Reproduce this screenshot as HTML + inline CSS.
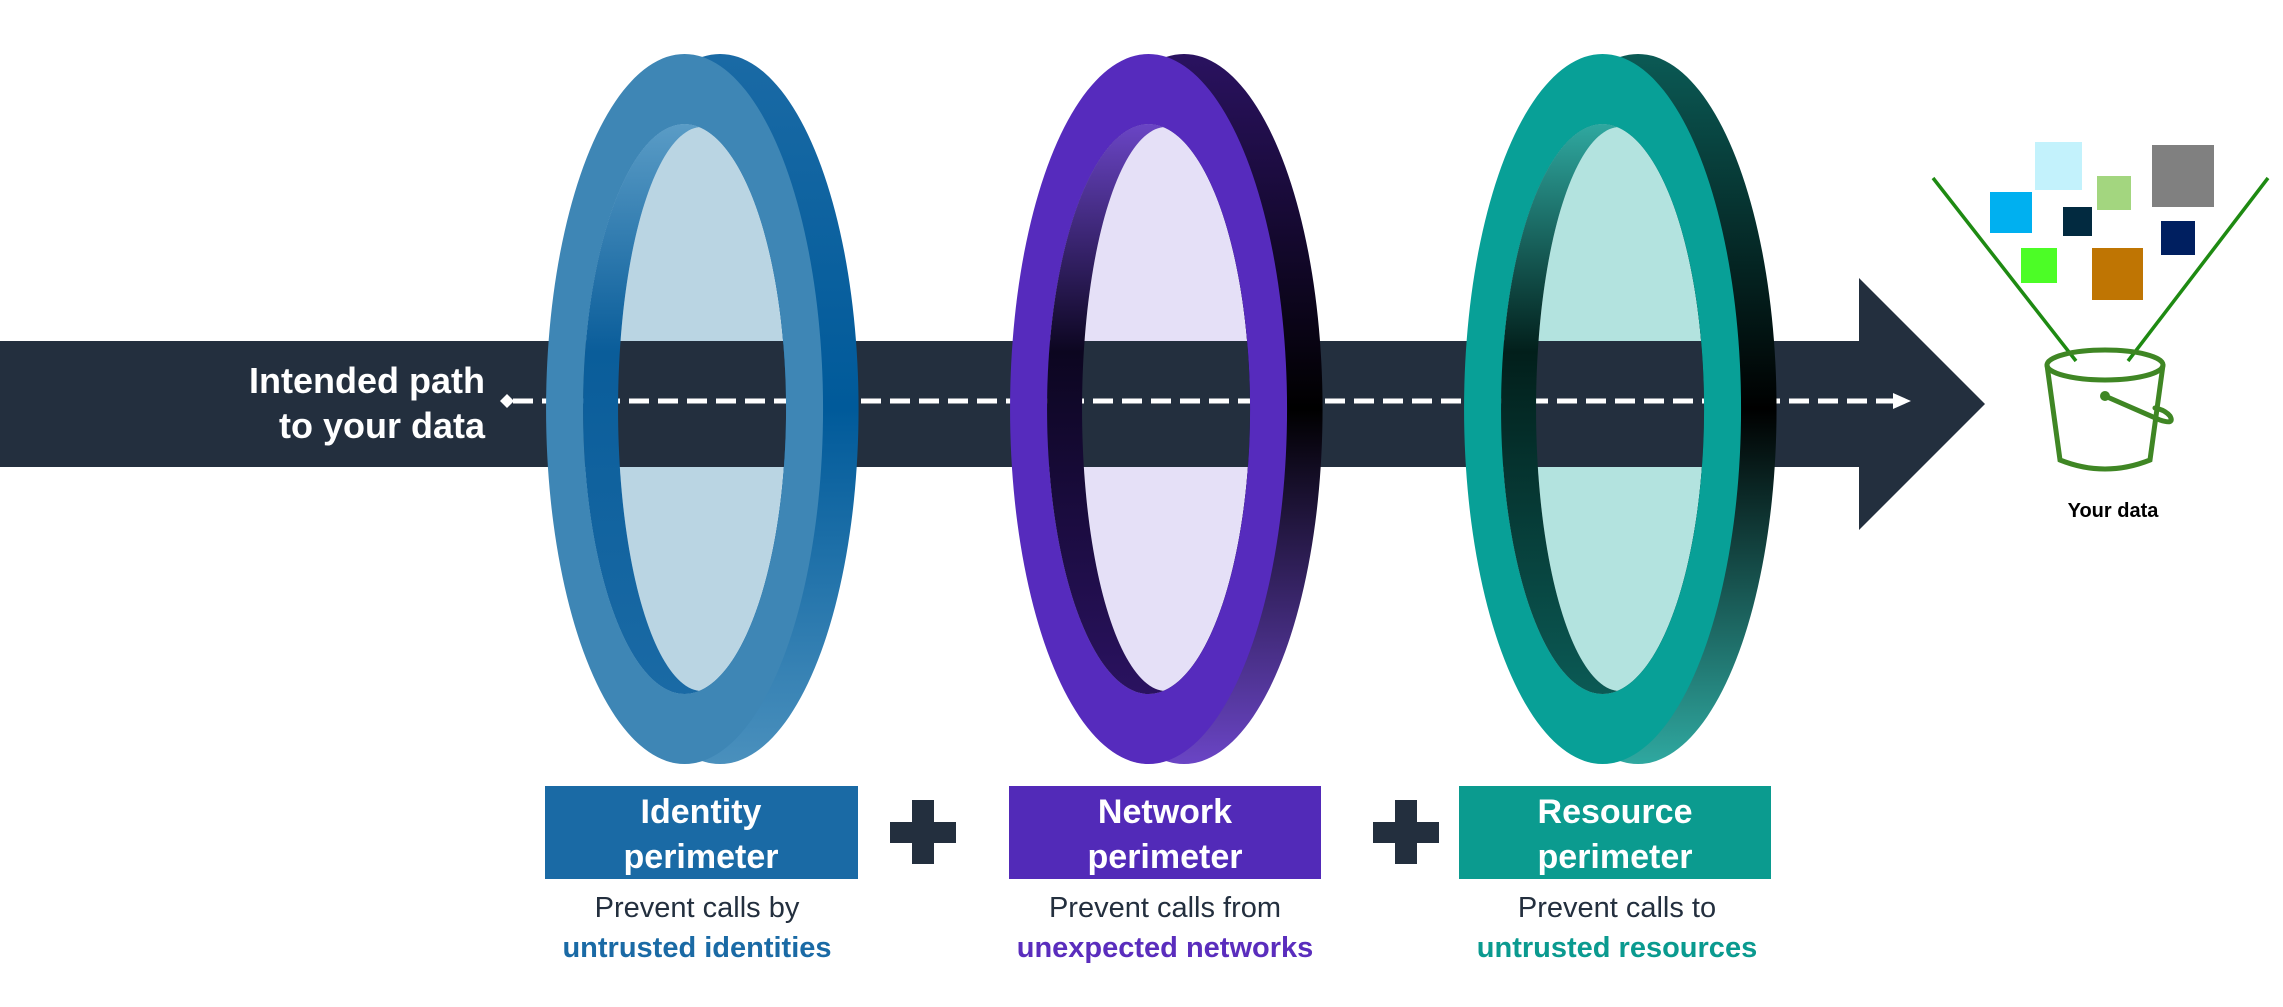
<!DOCTYPE html>
<html><head><meta charset="utf-8"><style>
html,body{margin:0;padding:0;background:#fff;}
svg{display:block;}
text{font-family:"Liberation Sans","DejaVu Sans",sans-serif;}
</style></head><body>
<svg width="2283" height="1007" viewBox="0 0 2283 1007" xmlns="http://www.w3.org/2000/svg">
<defs>
<linearGradient id="gI" x1="0" y1="0" x2="0" y2="1"><stop offset="0" stop-color="#1a6aa5"/><stop offset="0.5" stop-color="#005a9a"/><stop offset="1" stop-color="#4a90bd"/></linearGradient>
<linearGradient id="gN" x1="0" y1="0" x2="0" y2="1"><stop offset="0" stop-color="#2a1260"/><stop offset="0.5" stop-color="#000"/><stop offset="1" stop-color="#6a45c5"/></linearGradient>
<linearGradient id="gR" x1="0" y1="0" x2="0" y2="1"><stop offset="0" stop-color="#0b5a55"/><stop offset="0.5" stop-color="#000"/><stop offset="1" stop-color="#2fa8a0"/></linearGradient>
<linearGradient id="wI" x1="0" y1="0" x2="0" y2="1"><stop offset="0" stop-color="#5a9cc6"/><stop offset="0.4" stop-color="#0a5d9a"/><stop offset="1" stop-color="#1a6aa5"/></linearGradient>
<linearGradient id="wN" x1="0" y1="0" x2="0" y2="1"><stop offset="0" stop-color="#6a45c5"/><stop offset="0.4" stop-color="#0c0620"/><stop offset="1" stop-color="#2a1260"/></linearGradient>
<linearGradient id="wR" x1="0" y1="0" x2="0" y2="1"><stop offset="0" stop-color="#2fa8a0"/><stop offset="0.4" stop-color="#021f1b"/><stop offset="1" stop-color="#0b5a55"/></linearGradient>
</defs>

<!-- glass fills -->
<ellipse cx="702" cy="409" rx="84" ry="282" fill="#bad5e3"/>
<ellipse cx="1166" cy="409" rx="84" ry="282" fill="#e5e0f7"/>
<ellipse cx="1620" cy="409" rx="84" ry="282" fill="#b3e3df"/>

<!-- bar + arrowhead -->
<rect x="0" y="341" width="1862" height="126" fill="#232f3e"/>
<polygon points="1859,278 1985,404 1859,530" fill="#232f3e"/>

<!-- dashed line -->
<line x1="513" y1="401" x2="1893" y2="401" stroke="#fff" stroke-width="5" stroke-dasharray="20 9"/>
<polygon points="500,401 507,394 514,401 507,408" fill="#fff"/>
<polygon points="1893,393 1911,401 1893,409" fill="#fff"/>

<!-- Identity ring -->
<g>
<path fill-rule="evenodd" fill="url(#gI)" d="M720,54 a138.5,355 0 1,0 0.1,0 Z M684.5,124 a101.5,285 0 1,0 0.1,0 Z"/>
<path fill-rule="evenodd" fill="url(#wI)" d="M684.5,124 a101.5,285 0 1,0 0.1,0 Z M702,127 a84,282 0 1,0 0.1,0 Z"/>
<path fill-rule="evenodd" fill="#3e86b5" d="M684.5,54 a138.5,355 0 1,0 0.1,0 Z M684.5,124 a101.5,285 0 1,0 0.1,0 Z"/>
</g>
<!-- Network ring -->
<g transform="translate(464,0)">
<path fill-rule="evenodd" fill="url(#gN)" d="M720,54 a138.5,355 0 1,0 0.1,0 Z M684.5,124 a101.5,285 0 1,0 0.1,0 Z"/>
<path fill-rule="evenodd" fill="url(#wN)" d="M684.5,124 a101.5,285 0 1,0 0.1,0 Z M702,127 a84,282 0 1,0 0.1,0 Z"/>
<path fill-rule="evenodd" fill="#562bbd" d="M684.5,54 a138.5,355 0 1,0 0.1,0 Z M684.5,124 a101.5,285 0 1,0 0.1,0 Z"/>
</g>
<!-- Resource ring -->
<g transform="translate(918,0)">
<path fill-rule="evenodd" fill="url(#gR)" d="M720,54 a138.5,355 0 1,0 0.1,0 Z M684.5,124 a101.5,285 0 1,0 0.1,0 Z"/>
<path fill-rule="evenodd" fill="url(#wR)" d="M684.5,124 a101.5,285 0 1,0 0.1,0 Z M702,127 a84,282 0 1,0 0.1,0 Z"/>
<path fill-rule="evenodd" fill="#08a097" d="M684.5,54 a138.5,355 0 1,0 0.1,0 Z M684.5,124 a101.5,285 0 1,0 0.1,0 Z"/>
</g>

<!-- intended path text -->
<text x="485" y="393" text-anchor="end" font-size="36" font-weight="bold" fill="#fff">Intended path</text>
<text x="485" y="438" text-anchor="end" font-size="36" font-weight="bold" fill="#fff">to your data</text>

<!-- label boxes -->
<rect x="545" y="786" width="313" height="93" fill="#1a6aa5"/>
<rect x="1009" y="786" width="312" height="93" fill="#522ab8"/>
<rect x="1459" y="786" width="312" height="93" fill="#0b9b8f"/>
<g font-size="34" font-weight="bold" fill="#fff" text-anchor="middle">
<text x="701" y="823">Identity</text><text x="701" y="868">perimeter</text>
<text x="1165" y="823">Network</text><text x="1165" y="868">perimeter</text>
<text x="1615" y="823">Resource</text><text x="1615" y="868">perimeter</text>
</g>
<!-- plus signs -->
<g fill="#232f3e">
<rect x="890" y="822" width="66" height="21"/><rect x="912" y="800" width="22" height="64"/>
<rect x="1373" y="822" width="66" height="21"/><rect x="1395" y="800" width="22" height="64"/>
</g>
<!-- descriptions -->
<g font-size="29" text-anchor="middle">
<text x="697" y="917" fill="#232f3e">Prevent calls by</text>
<text x="697" y="957" fill="#1a6aa5" font-weight="bold">untrusted identities</text>
<text x="1165" y="917" fill="#232f3e">Prevent calls from</text>
<text x="1165" y="957" fill="#5a2dbd" font-weight="bold">unexpected networks</text>
<text x="1617" y="917" fill="#232f3e">Prevent calls to</text>
<text x="1617" y="957" fill="#0a9a8f" font-weight="bold">untrusted resources</text>
</g>

<!-- data squares -->
<rect x="2035" y="142" width="47" height="48" fill="#c3f2fc"/>
<rect x="2152" y="145" width="62" height="62" fill="#808080"/>
<rect x="2097" y="176" width="34" height="34" fill="#a3d67f"/>
<rect x="1990" y="192" width="42" height="41" fill="#00b0f0"/>
<rect x="2063" y="207" width="29" height="29" fill="#022a40"/>
<rect x="2161" y="221" width="34" height="34" fill="#001f60"/>
<rect x="2021" y="248" width="36" height="35" fill="#4cfd26"/>
<rect x="2092" y="248" width="51" height="52" fill="#bf7503"/>
<!-- funnel lines -->
<line x1="1933" y1="178" x2="2076" y2="361" stroke="#1e8a12" stroke-width="3.5"/>
<line x1="2268" y1="178" x2="2128" y2="361" stroke="#1e8a12" stroke-width="3.5"/>
<!-- bucket -->
<g fill="none" stroke="#3f8624" stroke-width="5" stroke-linecap="round">
<ellipse cx="2105" cy="365" rx="58" ry="15"/>
<path d="M2047,365 L2060,460 Q2105,478 2150,460 L2163,365"/>
<path d="M2105,396 L2160,420 Q2175,425 2170,416 Q2165,410 2155,408"/>
</g>
<circle cx="2105" cy="396" r="5" fill="#3f8624"/>
<text x="2113" y="517" text-anchor="middle" font-size="20" font-weight="bold" fill="#000">Your data</text>
</svg>
</body></html>
